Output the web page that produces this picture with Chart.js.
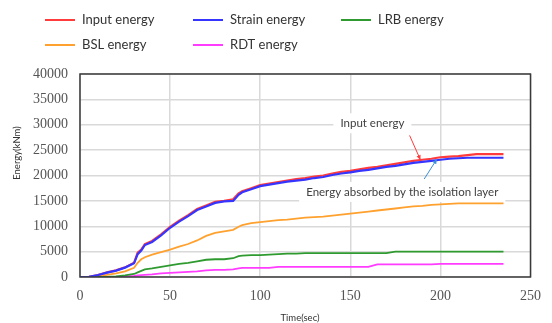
<!DOCTYPE html>
<html>
<head>
<meta charset="utf-8">
<script src="https://cdn.jsdelivr.net/npm/chart.js@4/dist/chart.umd.min.js"></script>
<style>
  html, body { margin: 0; padding: 0; background: #fff; }
  #wrap { width: 552px; height: 323px; position: relative; }
</style>
</head>
<body>
<div id="wrap"><canvas id="energyChart" width="552" height="323"></canvas></div>
<script>
const time = [0, 5, 10, 15, 20, 25, 30, 32, 34, 36, 40, 45, 50, 55, 60, 65, 70, 75, 80, 85, 88, 90, 95,
  100, 105, 110, 115, 120, 125, 130, 135, 140, 145, 150, 155, 160, 165, 170, 175, 180, 185, 190, 195,
  200, 205, 210, 215, 220, 225, 230, 235];

const inputEnergy = [0, 50, 400, 900, 1300, 1900, 2800, 4800, 5400, 6500, 7100, 8400, 9900, 11100, 12200, 13400, 14100, 14800, 15000, 15300, 16500, 16900, 17500,
  18100, 18400, 18700, 19000, 19300, 19500, 19800, 20000, 20400, 20700, 20900, 21200, 21500, 21700, 22000, 22300, 22600, 22900, 23100, 23300,
  23600, 23700, 23800, 24000, 24200, 24200, 24200, 24200];

const strainEnergy = [0, 50, 400, 850, 1250, 1850, 2700, 4500, 5200, 6300, 6900, 8200, 9700, 10900, 12000, 13200, 13900, 14600, 14900, 15000, 16200, 16700, 17300,
  17900, 18200, 18500, 18800, 19000, 19200, 19500, 19700, 20100, 20400, 20600, 20900, 21100, 21400, 21700, 21900, 22200, 22500, 22700, 22900,
  23100, 23300, 23400, 23500, 23500, 23500, 23500, 23500];

const lrbEnergy = [0, 0, 0, 0, 100, 300, 600, 900, 1200, 1500, 1700, 2000, 2300, 2600, 2800, 3100, 3400, 3500, 3500, 3700, 4100, 4200, 4300,
  4300, 4400, 4500, 4600, 4600, 4700, 4700, 4700, 4700, 4700, 4700, 4700, 4700, 4700, 4700, 5000, 5000, 5000, 5000, 5000,
  5000, 5000, 5000, 5000, 5000, 5000, 5000, 5000];

const bslEnergy = [0, 0, 100, 400, 700, 1100, 1800, 2800, 3500, 3900, 4400, 4900, 5400, 6000, 6500, 7200, 8100, 8700, 9000, 9300, 9900, 10200, 10600,
  10800, 11000, 11200, 11300, 11500, 11700, 11800, 11900, 12100, 12300, 12500, 12700, 12900, 13100, 13300, 13500, 13700, 13900, 14000, 14200,
  14300, 14400, 14500, 14500, 14500, 14500, 14500, 14500];

const rdtEnergy = [0, 0, 0, 0, 0, 100, 200, 300, 350, 400, 500, 700, 800, 900, 1000, 1100, 1300, 1400, 1400, 1500, 1700, 1800, 1800,
  1800, 1800, 2000, 2000, 2000, 2000, 2000, 2000, 2000, 2000, 2000, 2000, 2000, 2500, 2500, 2500, 2500, 2500, 2500, 2500,
  2600, 2600, 2600, 2600, 2600, 2600, 2600, 2600];

const seriesNames = ['Input energy', 'Strain energy', 'LRB energy', 'BSL energy', 'RDT energy'];
const seriesColors = ['#ff3b3b', '#3535ff', '#2f9a2f', '#ffa12e', '#ff3cff'];

// annotation text + arrows, in data coordinates
const notes = [
  { text: 'Input energy', x: 144.5, y: 30300, color: '#ff3b3b', from: [182.9, 27900], to: [188.9, 23100] },
  { text: 'Energy absorbed by the isolation layer', x: 125.5, y: 16750, color: '#3a8fd8', from: [191, 19300], to: [198, 23200] }
];

function pts(values) {
  return time.map((t, i) => ({ x: t, y: values[i] }));
}

const allValues = [inputEnergy, strainEnergy, lrbEnergy, bslEnergy, rdtEnergy];
const datasets = allValues.map((vals, i) => ({
  label: seriesNames[i],
  data: pts(vals),
  borderColor: seriesColors[i],
  backgroundColor: seriesColors[i],
  borderWidth: i < 2 ? 2.2 : 1.8,
  pointRadius: 0,
  tension: 0,
  fill: false,
  order: i === 1 ? 0 : i + 1
}));

Chart.defaults.font.family = '"Liberation Serif", serif';
Chart.defaults.font.size = 14;
Chart.defaults.color = '#555';

const legendPlugin = {
  id: 'legendGrid',
  afterDraw(chart) {
    const ctx = chart.ctx;
    const cols = [45, 193, 341];
    const rows = [20, 45];
    ctx.save();
    ctx.font = '13px Lato';
    ctx.textBaseline = 'middle';
    chart.data.datasets.forEach((ds, i) => {
      const x = cols[i % 3];
      const y = rows[Math.floor(i / 3)];
      ctx.strokeStyle = ds.borderColor;
      ctx.lineWidth = 2;
      ctx.beginPath();
      ctx.moveTo(x, y);
      ctx.lineTo(x + 30, y);
      ctx.stroke();
      ctx.fillStyle = '#333';
      ctx.fillText(ds.label, x + 37, y);
    });
    ctx.restore();
  }
};

const framePlugin = {
  id: 'frame',
  afterDatasetsDraw(chart) {
    const { ctx, chartArea: a, scales } = chart;
    ctx.save();
    ctx.strokeStyle = '#3a3a3a';
    ctx.lineWidth = 1.5;
    ctx.strokeRect(a.left, a.top, a.right - a.left, a.bottom - a.top);

    ctx.font = '11.5px Lato';
    ctx.textBaseline = 'middle';
    notes.forEach(n => {
      const tx = scales.x.getPixelForValue(n.x);
      const ty = scales.y.getPixelForValue(n.y);
      const w = ctx.measureText(n.text).width;
      ctx.fillStyle = '#fff';
      ctx.fillRect(tx - 7, ty - 10, w + 14, 20);
      ctx.fillStyle = '#404040';
      ctx.fillText(n.text, tx, ty);

      const x1 = scales.x.getPixelForValue(n.from[0]);
      const y1 = scales.y.getPixelForValue(n.from[1]);
      const x2 = scales.x.getPixelForValue(n.to[0]);
      const y2 = scales.y.getPixelForValue(n.to[1]);
      ctx.strokeStyle = n.color;
      ctx.fillStyle = n.color;
      ctx.lineWidth = 1;
      ctx.beginPath();
      ctx.moveTo(x1, y1);
      ctx.lineTo(x2, y2);
      ctx.stroke();
      const ang = Math.atan2(y2 - y1, x2 - x1);
      ctx.beginPath();
      ctx.moveTo(x2, y2);
      ctx.lineTo(x2 - 5 * Math.cos(ang - 0.45), y2 - 5 * Math.sin(ang - 0.45));
      ctx.lineTo(x2 - 5 * Math.cos(ang + 0.45), y2 - 5 * Math.sin(ang + 0.45));
      ctx.closePath();
      ctx.fill();
    });

    // axis titles
    ctx.fillStyle = '#333';
    ctx.font = '9.5px Lato';
    ctx.textAlign = 'center';
    ctx.fillText('Time(sec)', 300, 318);
    ctx.translate(17, 153);
    ctx.rotate(-Math.PI / 2);
    ctx.fillText('Energy(kNm)', 0, 0);
    ctx.restore();
  }
};

const ctx = document.getElementById('energyChart').getContext('2d');
new Chart(ctx, {
  type: 'line',
  data: { datasets },
  options: {
    responsive: false,
    animation: false,
    layout: { padding: { top: 74, right: 10, left: 0, bottom: 0 } },
    plugins: { legend: { display: false }, tooltip: { enabled: false } },
    scales: {
      x: {
        type: 'linear',
        min: 0,
        max: 250,
        afterFit(scale) { scale.height = 46; },
        ticks: { stepSize: 50, padding: 11, callback: v => String(v) },
        grid: { color: '#d9d9d9', lineWidth: 1.5, drawTicks: false },
        border: { display: false }
      },
      y: {
        min: 0,
        max: 40000,
        afterFit(scale) { scale.width = 80; },
        ticks: { stepSize: 5000, padding: 12, callback: v => String(v) },
        grid: { color: '#d9d9d9', lineWidth: 1.5, drawTicks: false },
        border: { display: false }
      }
    }
  },
  plugins: [legendPlugin, framePlugin]
});
</script>
</body>
</html>
